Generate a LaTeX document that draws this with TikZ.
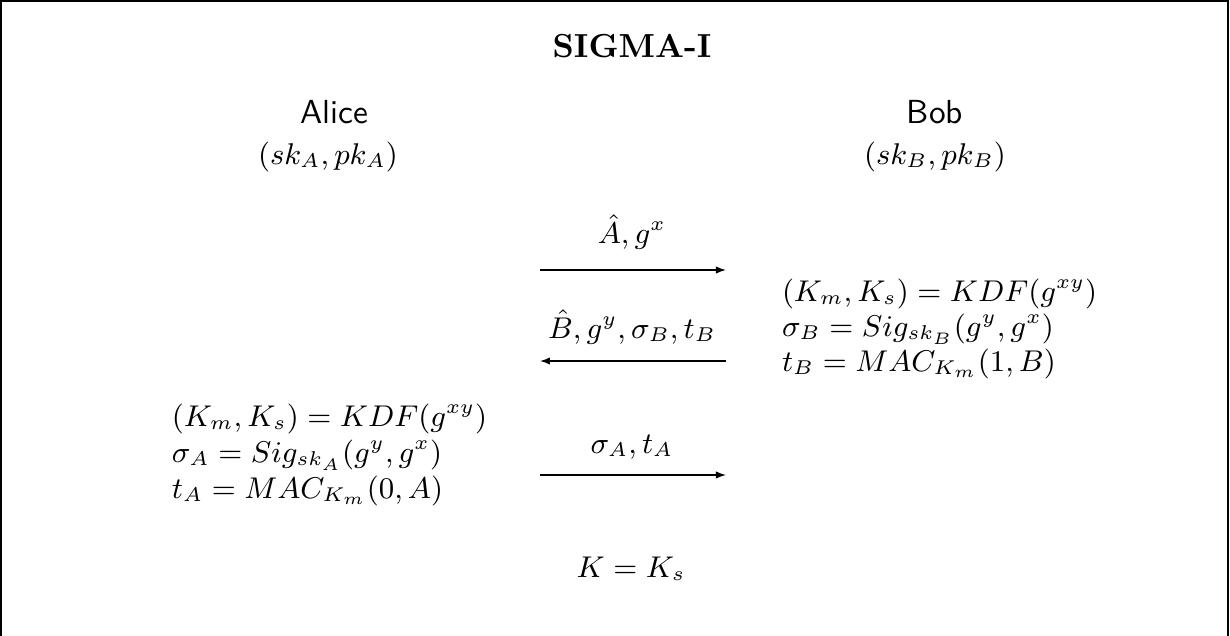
\documentclass[tikz,border=0pt]{standalone}
\usetikzlibrary{arrows.meta}
\begin{document}
\begin{tikzpicture}[x=0.3pt,y=-0.3pt,
  txt/.style={inner sep=0pt, outer sep=0pt},
  lbl/.style={txt, anchor=base, font=\small},
  blk/.style={txt, anchor=base west, font=\small},
  party/.style={txt, anchor=base, font=\sffamily},
  msg/.style={-{Latex[length=3pt,width=2.2pt]}, line width=0.4pt},
  frame/.style={line width=0.6pt}]
\useasboundingbox (0,0) rectangle (1230,636);
\draw[frame] (1,700) -- (1,1) -- (1228,1) -- (1228,700);

\node[txt, anchor=base] (title) at (632,57) {\textbf{SIGMA-I}};

\node[party] (alice) at (334,123) {Alice};
\node[lbl] (akeys) at (328,164) {$(sk_A, pk_A)$};
\node[party] (bob) at (935,123) {Bob};
\node[lbl] (bkeys) at (935,164) {$(sk_B, pk_B)$};

% message 1
\coordinate (m1s) at (540,270);
\coordinate (m1e) at (726,270);
\draw[msg] (m1s) -- (m1e);
\node[lbl] (l1) at (632,243) {$\hat{A}, g^x$};

% Bob computations
\node[blk] (b1) at (782,301) {$(K_m, K_s) = KDF(g^{xy})$};
\node[blk] (b2) at (782,336) {$\sigma_B = Sig_{sk_B}(g^y, g^x)$};
\node[blk] (b3) at (782,371) {$t_B = MAC_{K_m}(1, B)$};

% message 2
\coordinate (m2s) at (726,361);
\coordinate (m2e) at (540,361);
\draw[msg] (m2s) -- (m2e);
\node[lbl] (l2) at (632,338) {$\hat{B}, g^y, \sigma_B, t_B$};

% Alice computations
\node[blk] (a1) at (172,426) {$(K_m, K_s) = KDF(g^{xy})$};
\node[blk] (a2) at (172,462) {$\sigma_A = Sig_{sk_A}(g^y, g^x)$};
\node[blk] (a3) at (172,498) {$t_A = MAC_{K_m}(0, A)$};

% message 3
\coordinate (m3s) at (540,475);
\coordinate (m3e) at (726,475);
\draw[msg] (m3s) -- (m3e);
\node[lbl] (l3) at (632,453) {$\sigma_A, t_A$};

\node[lbl] (key) at (631,577) {$K = K_s$};
\end{tikzpicture}
\end{document}
